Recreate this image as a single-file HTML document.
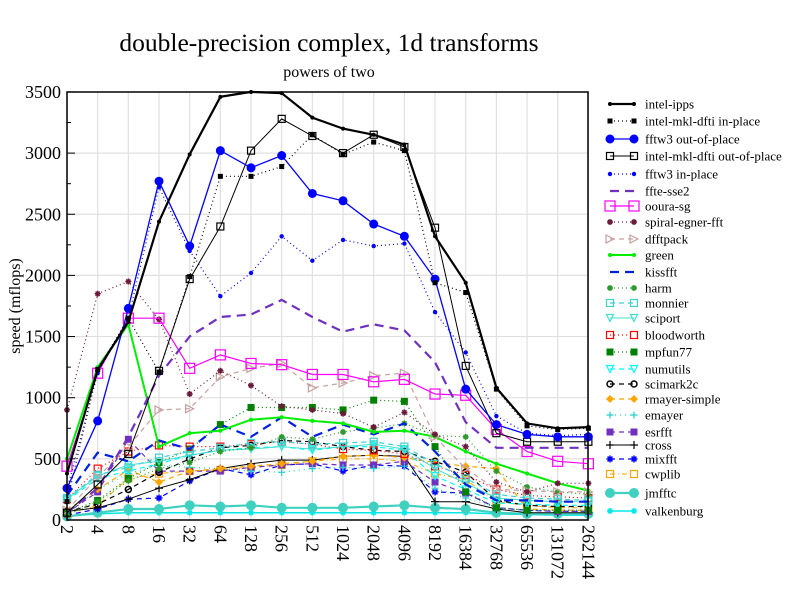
<!DOCTYPE html>
<html><head><meta charset="utf-8"><style>
body{margin:0;background:#fff}
svg{display:block;font-family:"Liberation Serif",serif}
</style></head><body>
<svg id="s" width="792" height="612" xmlns="http://www.w3.org/2000/svg"></svg>
<script>
const s=document.getElementById('s');
let h='';
const X=i=>67+i*30.67, Y=v=>520-v*0.1223;
for(let i=0;i<18;i++)h+=`<line x1="${X(i)}" y1="92" x2="${X(i)}" y2="520" stroke="#e0e0e0" stroke-width="1.2"/>`;
for(let v=500;v<3500;v+=500)h+=`<line x1="67" y1="${Y(v)}" x2="588" y2="${Y(v)}" stroke="#e0e0e0" stroke-width="1.2"/>`;
for(let v=0;v<=3500;v+=250){const big=v%500==0;h+=`<line x1="67" y1="${Y(v)}" x2="${big?75:71}" y2="${Y(v)}" stroke="#000"/>`;
 if(big)h+=`<text x="61" y="${Y(v)+6}" font-size="18" text-anchor="end">${v}</text>`;}
const xl=[2,4,8,16,32,64,128,256,512,1024,2048,4096,8192,16384,32768,65536,131072,262144];
xl.forEach((l,i)=>{h+=`<text transform="translate(${X(i)-6},525) rotate(90)" font-size="18">${l}</text>`});
h+=`<text x="329" y="51" font-size="25.5" text-anchor="middle">double-precision complex, 1d transforms</text>`;
h+=`<text x="329" y="77" font-size="16" text-anchor="middle">powers of two</text>`;
h+=`<text transform="translate(20,306) rotate(-90)" font-size="16" text-anchor="middle">speed (mflops)</text>`;
function mk(t,x,y,c,sz){sz=sz||3.5;
 switch(t){
 case 'dot':return `<circle cx="${x}" cy="${y}" r="${sz}" fill="${c}"/>`;
 case 'osq':return `<rect x="${x-sz}" y="${y-sz}" width="${2*sz}" height="${2*sz}" fill="none" stroke="${c}" stroke-width="1.2"/>`;
 case 'fsq':return `<rect x="${x-sz}" y="${y-sz}" width="${2*sz}" height="${2*sz}" fill="${c}"/>`;
 case 'star':return `<path d="M${x-sz} ${y}h${2*sz}M${x} ${y-sz}v${2*sz}M${x-sz*.7} ${y-sz*.7}l${1.4*sz} ${1.4*sz}M${x-sz*.7} ${y+sz*.7}l${1.4*sz} ${-1.4*sz}" stroke="${c}" stroke-width="1.5"/>`;
 case 'plus':return `<path d="M${x-sz} ${y}h${2*sz}M${x} ${y-sz}v${2*sz}" stroke="${c}" stroke-width="1.2"/>`;
 case 'tri':return `<path d="M${x-sz} ${y-sz}L${x+sz} ${y}L${x-sz} ${y+sz}Z" fill="none" stroke="${c}" stroke-width="1.2"/>`;
 case 'tdn':return `<path d="M${x-sz} ${y-sz}L${x+sz} ${y-sz}L${x} ${y+sz}Z" fill="none" stroke="${c}" stroke-width="1.2"/>`;
 case 'dia':return `<path d="M${x-sz} ${y}L${x} ${y-sz}L${x+sz} ${y}L${x} ${y+sz}Z" fill="${c}"/>`;
 case 'ocirc':return `<circle cx="${x}" cy="${y}" r="${sz}" fill="none" stroke="${c}" stroke-width="1.5"/>`;
 }return '';}
const S=[
['intel-ipps','#000',2.2,'','dot',2,[380,1230,1620,2440,2990,3460,3500,3490,3290,3200,3150,3070,2320,1940,1080,790,750,760]],
['intel-mkl-dfti in-place','#000',1.2,'1,3','fsq',2.5,[150,1230,1650,1210,1990,2810,2810,2890,3150,2990,3090,3020,1940,1860,1070,770,740,750]],
['fftw3 out-of-place','#00f',1.3,'','dot',4.5,[260,810,1730,2770,2240,3020,2880,2980,2670,2610,2420,2320,1970,1070,780,700,680,680]],
['intel-mkl-dfti out-of-place','#000',1,'','osq',3.5,[60,290,540,1220,1970,2400,3020,3280,3140,3000,3150,3050,2390,1260,710,640,640,640]],
['fftw3 in-place','#00f',1.2,'1,3','dot',2.2,[250,1200,1650,2720,2200,1830,2020,2320,2120,2290,2240,2260,1700,1370,850,710,690,700]],
['ffte-sse2','#7030c0',2.2,'9,6','',0,[60,260,680,1180,1500,1660,1680,1800,1660,1540,1600,1550,1290,800,590,590,590,590]],
['ooura-sg','#f0f',1.2,'','osq',5,[440,1200,1650,1650,1240,1350,1280,1270,1190,1190,1130,1150,1030,1020,740,560,480,460]],
['spiral-egner-fft','#6b1a3a',1.2,'1,3','star',3,[900,1850,1950,1640,1030,1220,1100,930,900,870,760,880,700,600,310,230,300,300]],
['dfftpack','#c8a0a0',1.2,'5,4','tri',4,[80,350,600,900,910,1170,1240,1280,1080,1120,1180,1200,680,420,250,240,230,230]],
['green','#0e0',2,'','dot',2,[500,1250,1600,600,710,730,820,840,810,790,720,730,680,560,460,380,300,240]],
['kissfft','#0020e0',2.2,'9,6','',0,[200,550,480,650,580,780,680,840,680,780,700,790,560,290,160,160,150,150]],
['harm','#2a9a2a',1.2,'1,3','star',3,[40,150,320,420,470,560,590,680,660,720,750,790,690,680,400,270,230,210]],
['monnier','#40d0d0',1.2,'5,4','osq',3.5,[180,370,430,510,560,590,630,640,620,630,640,600,460,340,210,180,170,160]],
['sciport','#40e0d0',1,'','tdn',3.5,[170,360,450,480,530,570,580,600,580,600,620,580,420,300,180,160,150,150]],
['bloodworth','#f00',1.2,'1,3','osq',3.5,[170,420,560,610,600,600,620,640,620,580,570,540,440,370,250,200,190,180]],
['mpfun77','#008000',1.2,'1,3','fsq',3.5,[60,160,340,470,580,780,920,920,920,900,980,970,600,230,100,80,80,80]],
['numutils','#00ffff',1.2,'5,4','tdn',3.5,[160,340,400,460,530,570,590,600,570,600,600,570,360,250,140,130,120,120]],
['scimark2c','#000',1.2,'5,4','ocirc',3,[70,130,250,390,500,590,610,650,640,600,570,560,480,390,160,120,110,110]],
['rmayer-simple','#ffa500',1.2,'5,4','dia',4,[80,250,410,310,400,420,440,460,480,520,530,510,470,440,420,90,80,80]],
['emayer','#20d0d0',1.2,'1,4','plus',3.5,[60,250,380,450,430,420,400,390,420,430,420,440,260,180,100,80,80,80]],
['esrfft','#7030c0',1.2,'5,4','fsq',3.5,[60,230,660,400,400,400,430,450,460,450,450,480,310,220,100,80,70,70]],
['cross','#000',1,'','plus',4,[70,100,170,260,330,420,460,490,490,520,530,520,150,150,90,60,60,60]],
['mixfft','#0000ff',1.2,'5,4','star',3.5,[40,90,170,180,320,420,370,450,460,400,450,440,230,220,100,80,70,70]],
['cwplib','#ffa500',1,'5,3,1,3','osq',3.5,[50,120,340,380,400,410,430,450,480,500,500,480,380,330,150,120,100,100]],
['jmfftc','#40d0c0',2.2,'','dot',5,[30,60,90,90,120,110,120,100,100,100,110,120,100,90,60,50,50,50]],
['valkenburg','#00e8e8',1.5,'','star',3,[30,50,60,60,60,60,60,60,60,60,60,60,60,60,50,45,40,40]],
];
const ly=[104,121,139,156,174,191,206,222,239,255,272,288,303,318,335,352,369,384,399,415,432,445,459,474,493,511];
S.slice().reverse().forEach(([n,c,w,d,m,sz,v])=>{
 const pts=v.map((a,i)=>X(i).toFixed(1)+','+Y(a).toFixed(1)).join(' ');
 h+=`<polyline points="${pts}" fill="none" stroke="${c}" stroke-width="${w}" ${d?`stroke-dasharray="${d}"`:''}/>`;
 v.forEach((a,i)=>h+=mk(m,X(i),Y(a),c,sz));
});
S.forEach(([n,c,w,d,m,sz],k)=>{const y=ly[k];
 h+=`<line x1="610" y1="${y}" x2="634" y2="${y}" stroke="${c}" stroke-width="${w}" ${d?`stroke-dasharray="${d}"`:''}/>`;
 h+=mk(m,610,y,c,sz)+mk(m,634,y,c,sz);
 h+=`<text x="645" y="${y+4.5}" font-size="13">${n}</text>`;
});
h+=`<rect x="67" y="92" width="521" height="428" fill="none" stroke="#000" stroke-width="1.5"/>`;
s.innerHTML=h;
</script>
</body></html>
